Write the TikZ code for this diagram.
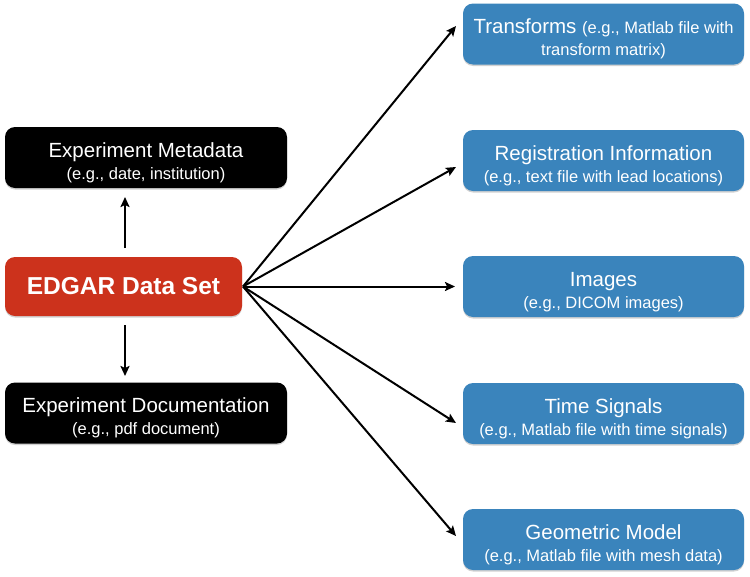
\documentclass[tikz,border=0pt]{standalone}
\usepackage{fontspec}
\setmainfont{Liberation Sans}
\usetikzlibrary{arrows.meta,shadows}
\definecolor{edred}{RGB}{204,50,28}
\definecolor{edblue}{RGB}{58,132,188}
\tikzset{
  box/.style={rounded corners=10pt, text=white, align=center, inner sep=0pt,
    drop shadow={shadow xshift=0pt, shadow yshift=-1.5pt, fill=black, opacity=0.18}},
  blackbox/.style={box, fill=black, minimum width=282pt, minimum height=61pt},
  bluebox/.style={box, fill=edblue, minimum width=281pt, minimum height=61pt},
  redbox/.style={box, fill=edred, minimum width=237pt, minimum height=59pt},
  arr/.style={-{Stealth[length=10pt,width=9pt,inset=2pt]}, line width=2pt},
  ttl/.style={font=\fontsize{20.5}{22}\selectfont},
}
\newcommand{\sub}[1]{{\fontsize{16.5}{18}\selectfont #1}}
\newcommand{\lift}{\rule{0pt}{25pt}}
\begin{document}
\begin{tikzpicture}[x=1pt,y=-1pt]
\useasboundingbox (0,0) rectangle (750,576);
% left
\node[blackbox, ttl] (meta) at (146,157.5) {\lift Experiment Metadata\\\sub{(e.g., date, institution)}};
\node[redbox, font=\bfseries\fontsize{24.5}{26}\selectfont] (edgar) at (123.5,286.5) {EDGAR Data Set};
\node[blackbox, ttl] (doc) at (146,413) {\lift Experiment Documentation\\\sub{(e.g., pdf document)}};
% right
\node[bluebox, ttl] (tr) at (603.5,34) {\lift Transforms \sub{(e.g., Matlab file with}\\\sub{transform matrix)}};
\node[bluebox, ttl] (reg) at (603.5,160.5) {\lift Registration Information\\\sub{(e.g., text file with lead locations)}};
\node[bluebox, ttl] (img) at (603.5,286.5) {\lift Images\\\sub{(e.g., DICOM images)}};
\node[bluebox, ttl] (ts) at (603.5,413.5) {\lift Time Signals\\\sub{(e.g., Matlab file with time signals)}};
\node[bluebox, ttl] (geo) at (603.5,539.5) {\lift Geometric Model\\\sub{(e.g., Matlab file with mesh data)}};
% connectors
\coordinate (src) at (243,286.5);
\coordinate (upa) at (125,248);
\coordinate (upb) at (125,197);
\coordinate (dna) at (125,325);
\coordinate (dnb) at (125,376);
\draw[arr] (upa) -- (upb);
\draw[arr] (dna) -- (dnb);
\coordinate (t1) at (456,26);
\coordinate (t2) at (456,167);
\coordinate (t3) at (455,286.5);
\coordinate (t4) at (456,423);
\coordinate (t5) at (456,536);
\draw[arr] (src) -- (t1);
\draw[arr] (src) -- (t2);
\draw[arr] (src) -- (t3);
\draw[arr] (src) -- (t4);
\draw[arr] (src) -- (t5);
\end{tikzpicture}
\end{document}
